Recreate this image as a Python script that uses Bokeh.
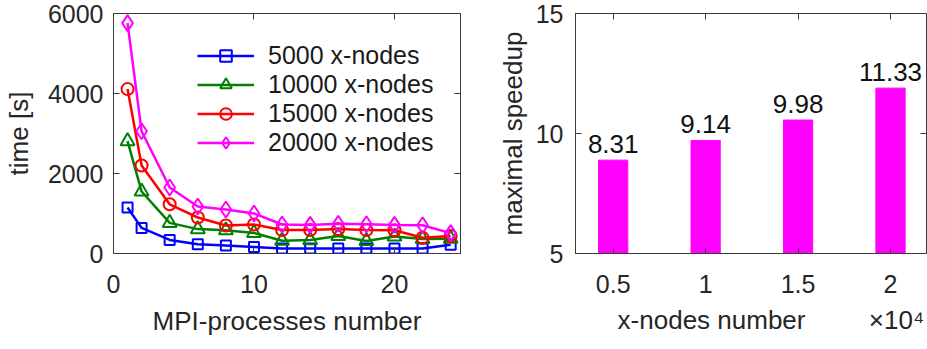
from bokeh.plotting import figure
from bokeh.layouts import row
from bokeh.models import LinearAxis, FixedTicker, Range1d, Legend, ColumnDataSource
from bokeh.core.properties import value
from bokeh.embed import file_html
from bokeh.resources import INLINE

# ---------------- data ----------------
mpi_procs = [1, 2, 4, 6, 8, 10, 12, 14, 16, 18, 20, 22, 24]
time_5000 = [1150, 640, 340, 230, 200, 165, 125, 125, 125, 125, 125, 125, 220]
time_10000 = [2810, 1550, 765, 610, 580, 515, 320, 335, 440, 315, 425, 365, 370]
time_15000 = [4110, 2200, 1230, 900, 700, 725, 585, 585, 610, 585, 580, 395, 440]
time_20000 = [5760, 3055, 1650, 1175, 1100, 1000, 725, 715, 745, 730, 715, 705, 510]
series_labels = ["5000 x-nodes", "10000 x-nodes", "15000 x-nodes", "20000 x-nodes"]
left_x_ticks = [0, 10, 20]
left_y_ticks = [0, 2000, 4000, 6000]

x_nodes = [5000, 10000, 15000, 20000]
speedup_bar = [8.89, 9.71, 10.56, 11.89]
speedup_labels = ["8.31", "9.14", "9.98", "11.33"]
x_node_tick_labels = ["0.5", "1", "1.5", "2"]
right_y_ticks = [5, 10, 15]
right_x_title = "x-nodes number"
right_x_exponent = "\u00d710\u2074"
right_x_title_pos = [10320, 20320]

FONT = "Liberation Sans"
TXT = "#262626"
AX = "#3a3a3a"


def style(p):
    p.outline_line_color = AX
    p.outline_line_width = 1
    p.xgrid.visible = False
    p.ygrid.visible = False
    p.background_fill_color = "white"
    p.border_fill_color = "white"
    for ax in p.axis:
        ax.major_tick_in = 6
        ax.major_tick_out = 0
        ax.minor_tick_in = 0
        ax.minor_tick_out = 0
        ax.axis_line_color = AX
        ax.major_tick_line_color = AX
        ax.major_label_text_font = FONT
        ax.major_label_text_font_size = "25px"
        ax.major_label_text_color = TXT
        ax.axis_label_text_font = FONT
        ax.axis_label_text_font_size = "26px"
        ax.axis_label_text_font_style = "normal"
        ax.axis_label_text_color = TXT


def add_box_axes(p, xticks, yticks):
    top = LinearAxis(ticker=FixedTicker(ticks=xticks),
                     major_label_overrides={t: "" for t in xticks})
    right = LinearAxis(ticker=FixedTicker(ticks=yticks),
                       major_label_overrides={t: "" for t in yticks})
    p.add_layout(top, "above")
    p.add_layout(right, "right")
    for ax in (top, right):
        ax.axis_line_color = None
        ax.major_label_standoff = 0
        ax.major_label_text_font_size = "2px"
        ax.major_tick_in = 6
        ax.major_tick_out = 0
        ax.minor_tick_in = 0
        ax.minor_tick_out = 0
        ax.major_tick_line_color = AX


# ---------------- left plot ----------------
p1 = figure(width=480, height=338, output_backend="svg", toolbar_location=None,
            x_range=Range1d(0, 24.7), y_range=Range1d(0, 6000),
            min_border_left=112, min_border_right=20, min_border_top=13, min_border_bottom=70)
style(p1)
p1.xaxis.ticker = FixedTicker(ticks=left_x_ticks)
p1.yaxis.ticker = FixedTicker(ticks=left_y_ticks)
p1.xaxis.axis_label = "MPI-processes number"
p1.yaxis.axis_label = "time [s]"
p1.xaxis.major_label_standoff = 21
p1.yaxis.major_label_standoff = 10
p1.xaxis.axis_label_standoff = 10
p1.yaxis.axis_label_standoff = 11

series = [time_5000, time_10000, time_15000, time_20000]
colors = ["#0000FF", "#008000", "#FF0000", "#FF00FF"]
markers = ["square", "triangle", "circle", "diamond"]
sizes = [10, 14, 12, 16]
items = []
for ys, c, m, s, lab in zip(series, colors, markers, sizes, series_labels):
    src = ColumnDataSource(dict(x=mpi_procs, y=ys))
    r1 = p1.line("x", "y", source=src, line_color=c, line_width=2.5)
    r2 = p1.scatter("x", "y", source=src, marker=m, size=s, line_color=c, line_width=2,
                    fill_alpha=0)
    items.append((lab, [r1, r2]))

legend = Legend(items=items, location=(84, 96), padding=0, spacing=0,
                glyph_width=57, glyph_height=29, label_height=29, label_standoff=14,
                label_text_font=FONT, label_text_font_size="25px", label_text_color="#1a1a1a",
                border_line_color=None, background_fill_alpha=0)
p1.add_layout(legend)
add_box_axes(p1, left_x_ticks, left_y_ticks)

# ---------------- right plot ----------------
p2 = figure(width=447, height=338, output_backend="svg", toolbar_location=None,
            x_range=Range1d(2961, 21947), y_range=Range1d(5, 15),
            min_border_left=95, min_border_right=1, min_border_top=11, min_border_bottom=70)
style(p2)
p2.vbar(x=x_nodes, top=speedup_bar, bottom=5, width=1580, fill_color="#FF00FF",
        line_color="#FF00FF")
p2.text(x=x_nodes, y=speedup_bar, text=speedup_labels, text_align="center",
        text_baseline="bottom", y_offset=-7, text_font=value(FONT),
        text_font_size="26px", text_color="#111111")
p2.xaxis.ticker = FixedTicker(ticks=x_nodes)
p2.xaxis.major_label_overrides = {xv: lab for xv, lab in zip(x_nodes, x_node_tick_labels)}
p2.yaxis.ticker = FixedTicker(ticks=right_y_ticks)
p2.yaxis.axis_label = "maximal speedup"
p2.xaxis.major_label_standoff = 21
p2.yaxis.major_label_standoff = 12
p2.yaxis.axis_label_standoff = 5

# second row under the tick labels: axis title and the x10^4 multiplier
title_axis = LinearAxis(ticker=FixedTicker(ticks=right_x_title_pos),
                        major_label_overrides={right_x_title_pos[0]: right_x_title,
                                               right_x_title_pos[1]: right_x_exponent})
title_axis.axis_line_color = None
title_axis.major_tick_line_color = None
title_axis.major_tick_in = 0
title_axis.major_tick_out = 0
title_axis.minor_tick_in = 0
title_axis.minor_tick_out = 0
title_axis.major_label_standoff = 9
title_axis.major_label_text_font = FONT
title_axis.major_label_text_font_size = "26px"
title_axis.major_label_text_color = TXT
p2.add_layout(title_axis, "below")
add_box_axes(p2, x_nodes, right_y_ticks)

layout = row(p1, p2)
open("out.html", "w").write(file_html(layout, INLINE))
